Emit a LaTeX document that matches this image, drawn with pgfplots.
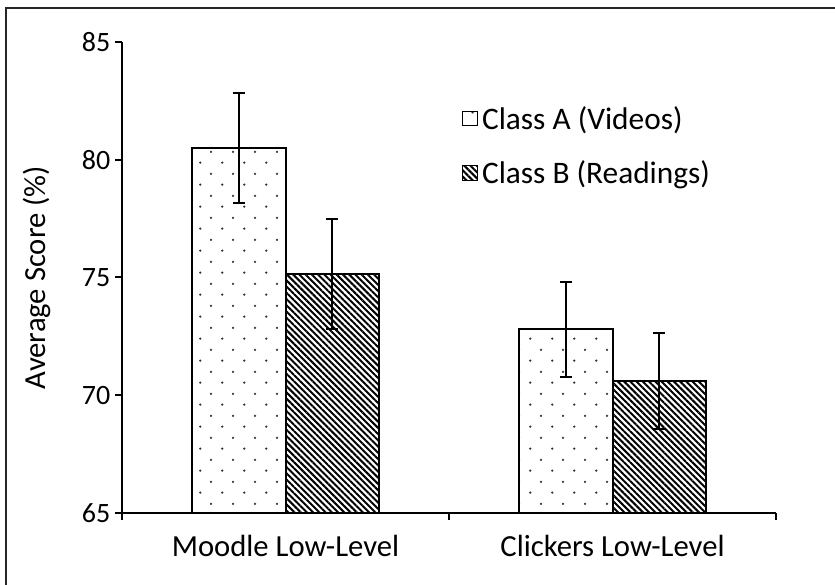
\documentclass[border=0pt]{standalone}
\usepackage{fontspec}
\setmainfont{Carlito}
\usepackage{pgfplots}
\pgfplotsset{compat=1.18}
\usetikzlibrary{patterns,patterns.meta}

\tikzdeclarepattern{
  name=sparsedots,
  type=uncolored,
  bounding box={(0pt,0pt) and (16.3pt,16.3pt)},
  tile size={(16.3pt,16.3pt)},
  code={\fill (4pt,4pt) circle (0.95pt); \fill (12.15pt,12.15pt) circle (0.95pt);}
}

\newcommand{\tickfont}{\fontsize{21}{24}\selectfont}
\newcommand{\chartfont}{\fontsize{23}{26}\selectfont}
\newcommand{\legfont}{\fontsize{23.5}{26}\selectfont}

\begin{document}
\begin{tikzpicture}
\useasboundingbox (0,0) rectangle (626.25pt,438.75pt);
\draw[line width=1.5pt, black!85] (4.5pt,-5pt) -- (4.5pt,432.75pt) -- (640pt,432.75pt);
\begin{axis}[
  at={(91.5pt,54pt)}, anchor=south west,
  scale only axis, width=490.5pt, height=353.25pt,
  xmin=0, xmax=2, ymin=65, ymax=85,
  axis x line=bottom, axis y line=left,
  axis line style={-, line width=1.5pt, black},
  tick align=outside, major tick length=5.25pt,
  tick style={line width=1.5pt, black},
  ytick={65,70,75,80,85},
  xtick={0,1,2}, xticklabels={,,},
  extra x ticks={0.5,1.5},
  extra x tick labels={Moodle Low-Level, Clickers Low-Level},
  extra x tick style={major tick length=0pt, tick label style={yshift=-13pt, font=\chartfont}},
  /pgf/number format/assume math mode=true,
  tick label style={font=\tickfont},
  label style={font=\chartfont},
  ylabel={Average Score (\%)},
  every axis y label/.style={at={(axis description cs:-0.13,0.5)}, rotate=90, anchor=center, font=\chartfont},
  legend style={at={(rel axis cs:0.52,0.87)}, anchor=north west, draw=none, fill=none,
    font=\legfont, row sep=18pt, inner sep=0pt,
    nodes={inner xsep=3pt}},
  legend cell align=left,
  legend image code/.code={\draw[#1, line width=0.8pt] (0pt,-5.5pt) rectangle (11pt,5.5pt);},
  clip=false,
]
\addplot[ybar, bar width=0.286, bar shift=0pt, draw=black, line width=1.5pt,
  pattern=sparsedots, pattern color=black!80,
  error bars/.cd, y dir=both, y explicit,
  error bar style={line width=1.5pt, black},
  error mark options={rotate=90, mark size=4.5pt, line width=1.5pt, black}]
  coordinates {(0.357,80.5) +- (0,2.35) (1.357,72.8) +- (0,2.03)};
\addlegendentry{Class A (Videos)}
\addplot[ybar, bar width=0.286, bar shift=0pt, draw=black, line width=1.5pt,
  pattern={Lines[angle=-45,distance=3.3pt,line width=1.5pt]}, pattern color=black,
  error bars/.cd, y dir=both, y explicit,
  error bar style={line width=1.5pt, black},
  error mark options={rotate=90, mark size=4.5pt, line width=1.5pt, black}]
  coordinates {(0.643,75.15) +- (0,2.35) (1.643,70.6) +- (0,2.03)};
\addlegendentry{Class B (Readings)}
\end{axis}
\end{tikzpicture}
\end{document}
